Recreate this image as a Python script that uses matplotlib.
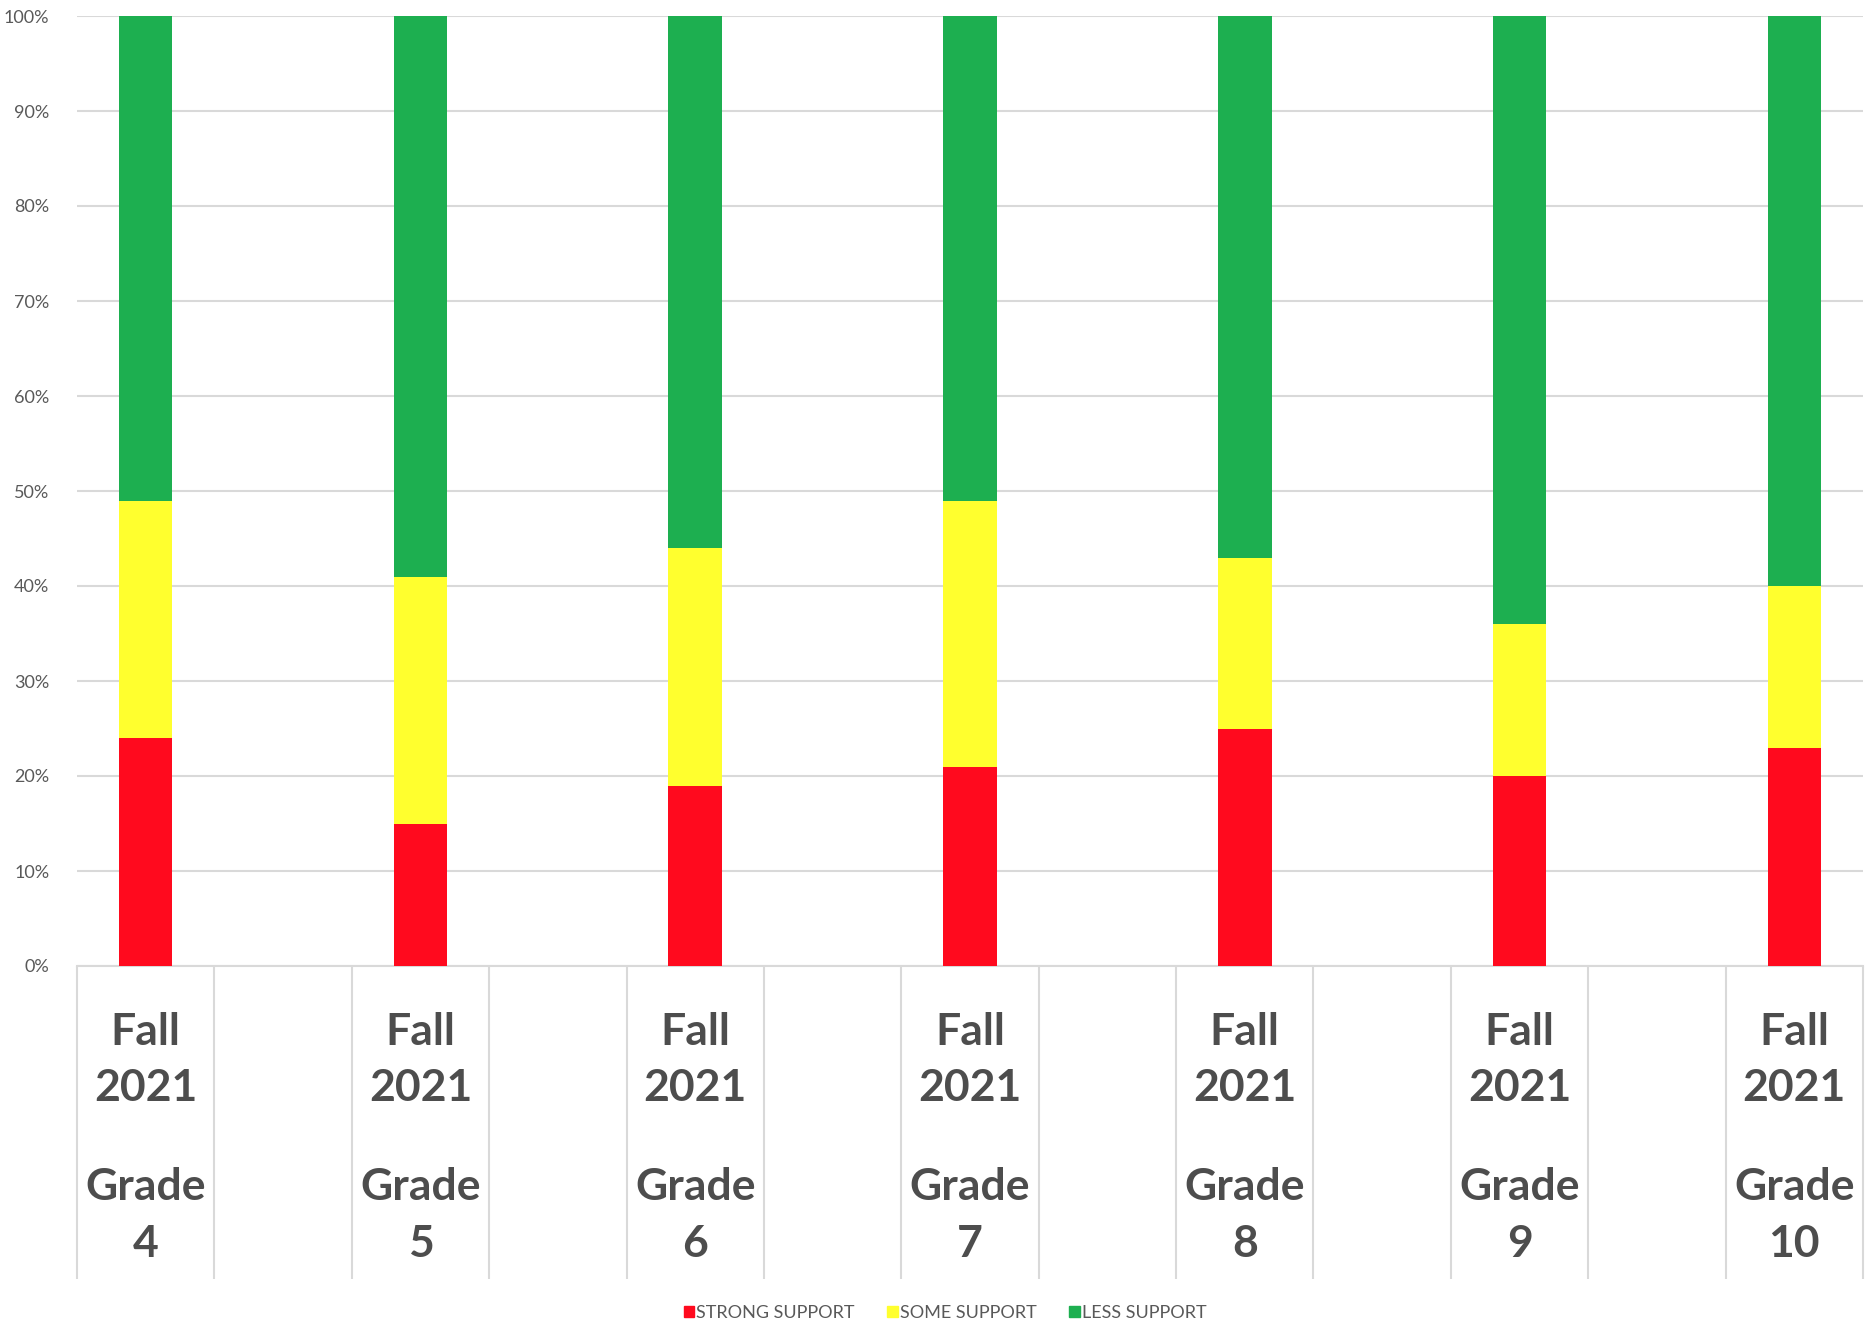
import numpy as np
import matplotlib
matplotlib.use("Agg")
import matplotlib.pyplot as plt
from matplotlib.patches import Patch

# data (percent of students)
grades = ["4", "5", "6", "7", "8", "9", "10"]
season = "Fall\n2021"
strong = [24, 15, 19, 21, 25, 20, 23]
some = [25, 26, 25, 28, 18, 16, 17]
less = [51, 59, 56, 51, 57, 64, 60]
series_names = ["STRONG SUPPORT", "SOME SUPPORT", "LESS SUPPORT"]
colors = ["#FF0A1E", "#FFFF2E", "#1DAF50"]

plt.rcParams['font.family'] = ['Lato', 'DejaVu Sans']

fig = plt.figure(figsize=(18.7, 13.25), dpi=100)
ax = fig.add_axes([77/1870, (1325-966)/1325, (1863-77)/1870, (966-16)/1325])

# every other category slot is empty, like in the original sheet
x = np.arange(len(grades)) * 2
w = 0.39
ax.bar(x, strong, w, color=colors[0], zorder=3)
ax.bar(x, some, w, bottom=strong, color=colors[1], zorder=3)
ax.bar(x, less, w, bottom=np.array(strong) + np.array(some), color=colors[2], zorder=3)

ax.set_xlim(-0.5, 2 * len(grades) - 1.5)
ax.set_ylim(0, 100)
ax.set_yticks(np.arange(0, 101, 10))
ax.set_yticklabels([f"{v}%" for v in range(0, 101, 10)], fontsize=13, color="#595959")
ax.tick_params(axis="y", length=0, pad=20)
ax.grid(axis="y", color="#d9d9d9", linewidth=1.5, zorder=0)

for s in ["top", "right", "left"]:
    ax.spines[s].set_visible(False)
ax.spines["bottom"].set_color("#d9d9d9")
ax.spines["bottom"].set_linewidth(1.5)

# category boxes below the axis
ax.set_xticks(np.arange(-0.5, 2 * len(grades) - 1, 1.0), minor=True)
ax.tick_params(axis="x", which="minor", length=225, color="#d9d9d9", width=1.5)
ax.set_xticks([])

for xi, g in zip(x, grades):
    ax.annotate(season, xy=(xi, 0), xycoords=("data", "axes fraction"),
                xytext=(0, -33), textcoords="offset points", ha="center", va="top",
                fontsize=32, fontweight="bold", color="#4d4d4d", linespacing=1.5)
    ax.annotate("Grade\n" + g, xy=(xi, 0), xycoords=("data", "axes fraction"),
                xytext=(0, -145), textcoords="offset points", ha="center", va="top",
                fontsize=32, fontweight="bold", color="#4d4d4d", linespacing=1.5)

handles = [Patch(color=c) for c in colors]
fig.legend(handles, series_names, loc="center", bbox_to_anchor=(945/1870, 1 - 1313/1325),
           ncol=3, frameon=False, fontsize=13, labelcolor="#595959",
           handlelength=0.6, handleheight=0.6, handletextpad=0.1, columnspacing=1.8)

fig.savefig("out.png", dpi=100)
